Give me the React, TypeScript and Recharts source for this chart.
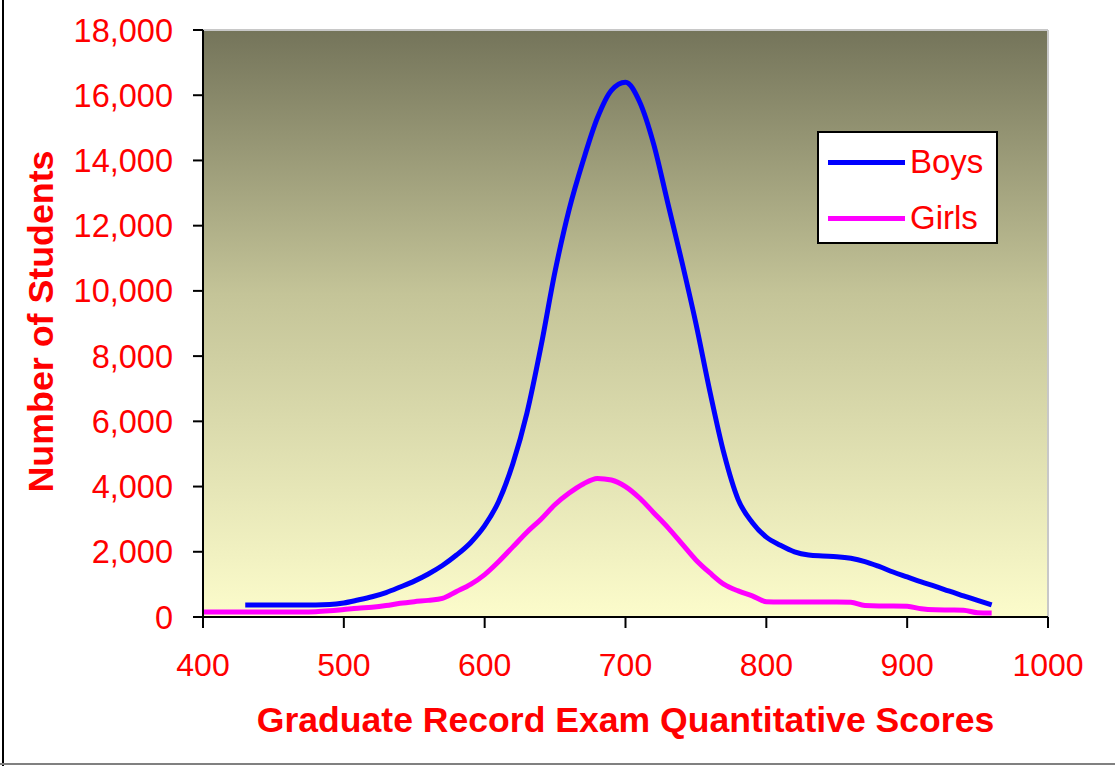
import React from 'react';
import { LineChart, Line, XAxis, YAxis, CartesianGrid, Legend, ReferenceLine, Label } from 'recharts';

const boysScores = [430, 440, 450, 460, 470, 480, 490, 500, 510, 520, 530, 540, 550, 560, 570, 580, 590, 600, 610, 620, 630, 640, 650, 660, 670, 680, 690, 700, 710, 720, 730, 740, 750, 760, 770, 780, 790, 800, 810, 820, 830, 840, 850, 860, 870, 880, 890, 900, 910, 920, 930, 940, 950, 960];
const boysCounts = [370, 370, 370, 370, 370, 370, 380, 430, 520, 620, 750, 920, 1100, 1320, 1580, 1900, 2280, 2800, 3550, 4700, 6250, 8300, 10600, 12500, 14000, 15300, 16150, 16400, 15800, 14500, 12700, 10900, 9000, 6900, 5000, 3600, 2900, 2450, 2200, 2000, 1900, 1870, 1850, 1800, 1700, 1550, 1380, 1230, 1080, 940, 790, 650, 510, 370];

const girlsScores = [400, 410, 420, 430, 440, 450, 460, 470, 480, 490, 500, 510, 520, 530, 540, 550, 560, 570, 580, 590, 600, 610, 620, 630, 640, 650, 660, 670, 680, 690, 700, 710, 720, 730, 740, 750, 760, 770, 780, 790, 800, 810, 820, 830, 840, 850, 860, 870, 880, 890, 900, 910, 920, 930, 940, 950, 960];
const girlsCounts = [150, 150, 150, 150, 150, 150, 150, 150, 160, 190, 230, 270, 300, 350, 420, 470, 510, 570, 780, 1000, 1300, 1700, 2150, 2600, 3000, 3450, 3800, 4080, 4250, 4200, 4000, 3650, 3200, 2750, 2250, 1750, 1350, 1000, 800, 650, 470, 460, 460, 460, 460, 460, 450, 350, 340, 340, 330, 250, 220, 215, 210, 130, 120];

const xTicks = [400, 500, 600, 700, 800, 900, 1000];
const yTicks = [0, 2000, 4000, 6000, 8000, 10000, 12000, 14000, 16000, 18000];

const seriesNames = ['Boys', 'Girls'];
const seriesColors = ['#0000ff', '#ff00ff'];

const boysData = boysScores.map((s, i) => ({ score: s, value: boysCounts[i] }));
const girlsData = girlsScores.map((s, i) => ({ score: s, value: girlsCounts[i] }));

const FONT = '"Liberation Sans", Arial, sans-serif';
const RED = '#ff0000';

const LegendBox = (props: any) => {
  const payload = props.payload || [];
  return (
    <div style={{ width: 177, height: 109, background: '#ffffff', border: '2px solid #000', boxSizing: 'content-box', fontFamily: FONT }}>
      {payload.map((p: any, i: number) => (
        <div key={i} style={{ display: 'flex', alignItems: 'center', height: 28, marginTop: i === 0 ? 15 : 28, paddingLeft: 9 }}>
          <div style={{ width: 77, height: 5, background: p.color }} />
          <span style={{ marginLeft: 5, fontSize: 33, color: RED, lineHeight: '28px' }}>{p.value}</span>
        </div>
      ))}
    </div>
  );
};

export default function App() {
  return (
    <div style={{ position: 'absolute', left: 0, top: 0, width: 1115, height: 766, background: '#ffffff', overflow: 'hidden' }}>
      <div style={{ position: 'absolute', left: 2, top: 0, width: 2, height: 766, background: '#000' }} />
      <div style={{ position: 'absolute', left: 0, top: 763, width: 1115, height: 2, background: '#808080' }} />
      <LineChart
        width={1115}
        height={766}
        margin={{ top: 30, right: 67, bottom: 0, left: 0 }}
        style={{ fontFamily: FONT }}
      >
        <defs>
          <linearGradient id="bg" x1="0" y1="0" x2="0" y2="1">
            <stop offset="0%" stopColor="#74745a" />
            <stop offset="45%" stopColor="#c4c498" />
            <stop offset="100%" stopColor="#fcfccb" />
          </linearGradient>
        </defs>
        <CartesianGrid fill="url(#bg)" horizontal={false} vertical={false} />
        <ReferenceLine y={18000} stroke="#c8c8c8" strokeWidth={2} />
        <ReferenceLine x={1000} stroke="#c8c8c8" strokeWidth={2} />
        <XAxis
          dataKey="score"
          type="number"
          domain={[400, 1000]}
          ticks={xTicks}
          allowDuplicatedCategory={false}
          height={149}
          tickSize={11}
          tickMargin={25}
          axisLine={{ stroke: '#000', strokeWidth: 2 }}
          tickLine={{ stroke: '#000', strokeWidth: 2 }}
          tick={{ fill: RED, fontSize: 32, fontFamily: FONT }}
        >
          <Label
            content={(p: any) => {
              const vb = p.viewBox || {};
              return (
                <text x={vb.x + vb.width / 2} y={vb.y + 106} textAnchor="middle" dominantBaseline="middle" fill={RED} fontSize={35.6} fontWeight="bold" fontFamily={FONT}>
                  Graduate Record Exam Quantitative Scores
                </text>
              );
            }}
          />
        </XAxis>
        <YAxis
          type="number"
          domain={[0, 18000]}
          ticks={yTicks}
          width={203}
          tickSize={10}
          tickMargin={20}
          interval={0}
          axisLine={{ stroke: '#000', strokeWidth: 2 }}
          tickLine={{ stroke: '#000', strokeWidth: 2 }}
          tick={{ fill: RED, fontSize: 32.5, fontFamily: FONT }}
          tickFormatter={(v: number) => v.toLocaleString('en-US')}
        >
          <Label
            content={(p: any) => {
              const vb = p.viewBox || {};
              const cx = 44;
              const cy = vb.y + vb.height / 2 - 2;
              return (
                <text x={cx} y={cy} textAnchor="middle" dominantBaseline="middle" transform={`rotate(-90 ${cx} ${cy})`} fill={RED} fontSize={35.8} fontWeight="bold" fontFamily={FONT}>
                  Number of Students
                </text>
              );
            }}
          />
        </YAxis>
        <Legend
          layout="horizontal"
          verticalAlign="middle"
          align="center"
          content={LegendBox}
          wrapperStyle={{ left: 817, top: 131, width: 181, height: 113 }}
        />
        <Line data={boysData} dataKey="value" name={seriesNames[0]} stroke={seriesColors[0]} strokeWidth={5} dot={false} type="monotone" isAnimationActive={false} />
        <Line data={girlsData} dataKey="value" name={seriesNames[1]} stroke={seriesColors[1]} strokeWidth={5} dot={false} type="monotone" isAnimationActive={false} />
      </LineChart>
    </div>
  );
}
